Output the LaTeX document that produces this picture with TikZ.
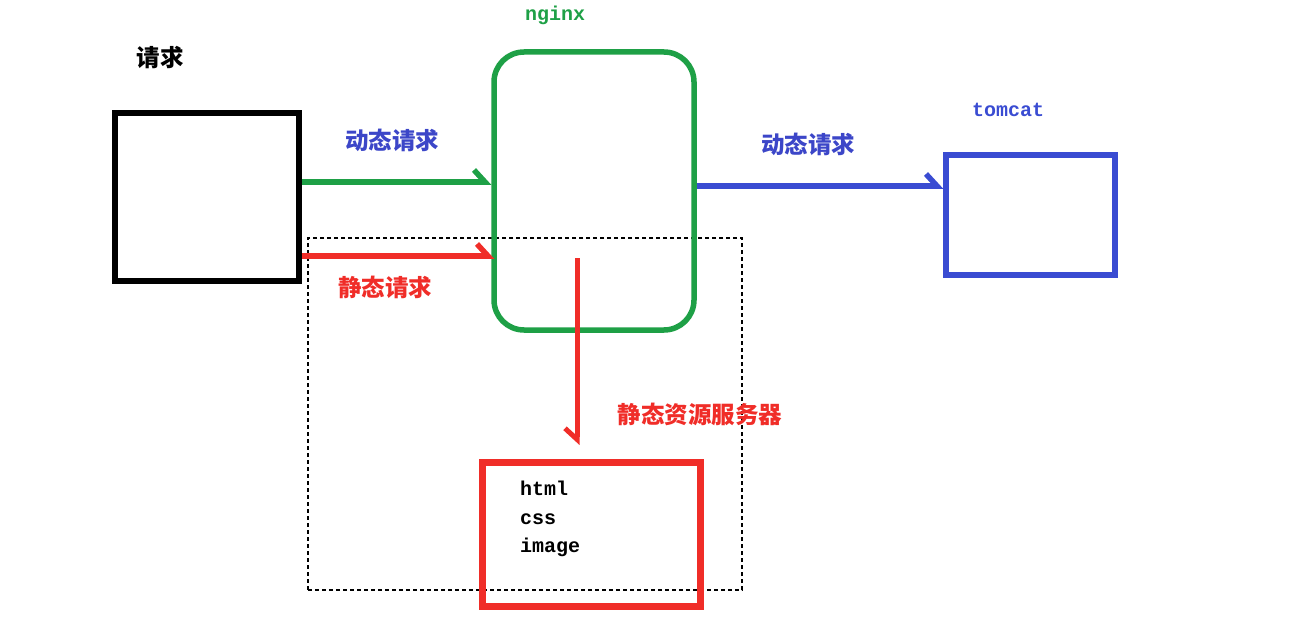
\documentclass[tikz,border=0pt]{standalone}
\usepackage{fontspec}
\setmonofont{Liberation Mono}
\newfontfamily\cjk{Noto Sans CJK SC}
\usetikzlibrary{arrows.meta}
\definecolor{ngreen}{RGB}{30,160,70}
\definecolor{tblue}{RGB}{58,76,210}
\definecolor{sred}{RGB}{240,45,40}
\definecolor{lblue}{RGB}{60,70,200}
\tikzset{
  box/.style={draw, line width=5.5pt, inner sep=0pt, minimum width=#1},
  cjklabel/.style={font=\cjk\bfseries\fontsize{23.5}{26}\selectfont, inner sep=0pt},
  monolabel/.style={font=\ttfamily\bfseries\fontsize{20}{28.5}\selectfont, inner sep=0pt},
  harrow/.style={-{Straight Barb[harpoon,length=11pt,width=24pt]}, line width=5.5pt},
  sarrow/.style={-{Straight Barb[harpoon,swap,length=11pt,width=24pt]}, line width=5pt}
}
\begin{document}
\begin{tikzpicture}[x=1pt,y=-1pt]
\useasboundingbox (0,0) rectangle (1311,623);
% dashed region
\node (region) [draw, dashed, dash pattern=on 4pt off 3pt, line width=1.2pt, inner sep=0pt,
  minimum width=434pt, minimum height=352pt] at (525,414) {};
% client
\node (client) [box=184pt, minimum height=168pt, draw=black] at (207,197) {};
\node (reqlabel) [cjklabel] at (160,58) {请求};
% nginx
\node (nginx) [box=200pt, minimum height=278pt, draw=ngreen, rounded corners=30pt] at (594,191) {};
\node (nginxlabel) [monolabel, text=ngreen] at (555,15) {nginx};
% tomcat
\node (tomcat) [box=169pt, minimum height=120pt, draw=tblue] at (1030.5,215) {};
\node (tomcatlabel) [monolabel, text=tblue] at (1008,110) {tomcat};
% static server
\node (static) [box=218pt, minimum height=144pt, draw=sred, line width=7pt] at (591,534) {};
\node (files) [monolabel, align=left, anchor=north west] at (520,481) {html\\css\\image};
% arrows
\draw[harrow, ngreen] (client.east |- 0,182) -- (nginx.west |- 0,182);
\node (dyn1) [cjklabel, text=lblue] at (392,140) {动态请求};
\draw[harrow, sred] (client.east |- 0,256) -- ([xshift=3pt]nginx.west |- 0,256);
\node (sta1) [cjklabel, text=sred] at (385,287) {静态请求};
\draw[harrow, tblue] (nginx.east |- 0,186) -- (tomcat.west |- 0,186);
\node (dyn2) [cjklabel, text=lblue] at (808,144) {动态请求};
\coordinate (vstart) at (577,258);
\coordinate (vend) at (577,445);
\draw[sarrow, sred] (vstart) -- (vend);
\node (srvlabel) [cjklabel, text=sred] at (700,414) {静态资源服务器};
\end{tikzpicture}
\end{document}
